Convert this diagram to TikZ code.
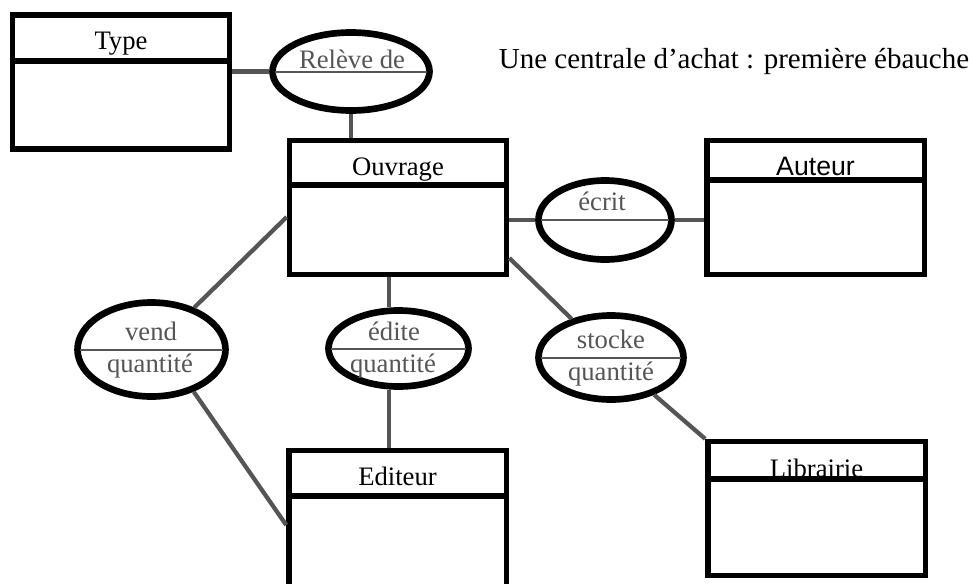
\documentclass[tikz,border=0pt]{standalone}
\usepackage{fontspec}
\setmainfont{Liberation Serif}
\newfontfamily\arial{Liberation Sans}
\usetikzlibrary{shapes.geometric}
\definecolor{gris}{RGB}{85,85,85}

\begin{document}
\begin{tikzpicture}[x=0.75pt,y=-0.75pt,
    entite/.style={draw,line width=4pt,minimum width=163pt,minimum height=100.5pt,inner sep=0pt},
    assoc/.style={ellipse,draw,line width=5pt,fill=white,inner sep=0pt},
    lien/.style={gris,line width=3.2pt},
    sep/.style={gris,line width=1.5pt,shorten <=4.5pt,shorten >=4.5pt},
    etiq/.style={anchor=base,font=\fontsize{20pt}{22pt}\selectfont},
    role/.style={etiq,text=gris}]
    \useasboundingbox (0,0) rectangle (975,583);
    \clip (0,0) rectangle (975,583);
    \node[entite] (type) at (121,82) {};
    \node[entite] (ouvrage) at (398,207.5) {};
    \node[entite] (auteur) at (815.5,207.5) {};
    \node[entite,minimum height=110pt] (editeur) at (397.5,523.8) {};
    \node[entite] (librairie) at (816.5,508.5) {};
    \draw[line width=4pt] (type.west |- 0,61) -- (type.east |- 0,61);
    \draw[line width=4pt] (ouvrage.west |- 0,185) -- (ouvrage.east |- 0,185);
    \draw[line width=4pt] (auteur.west |- 0,180) -- (auteur.east |- 0,180);
    \draw[line width=4pt] (editeur.west |- 0,496) -- (editeur.east |- 0,496);
    \draw[line width=4pt] (librairie.west |- 0,479) -- (librairie.east |- 0,479);
    \node[etiq] (type-t) at (121,49) {Type};
    \node[etiq] (ouvrage-t) at (398,175) {Ouvrage};
    \node[etiq,font=\arial\fontsize{20pt}{22pt}\selectfont] (auteur-t) at (815.5,175) {Auteur};
    \node[etiq] (editeur-t) at (397.5,485) {Editeur};
    \node[etiq] (librairie-t) at (816.5,477) {Librairie};
    \node[assoc,minimum width=117.75pt,minimum height=58.5pt] (releve) at (351,71.5) {};
    \node[assoc,minimum width=99.75pt,minimum height=59.25pt] (ecrit) at (605,220) {};
    \node[assoc,minimum width=111pt,minimum height=70.5pt] (vend) at (151.5,349.5) {};
    \node[assoc,minimum width=105pt,minimum height=57pt] (edite) at (398.5,348.5) {};
    \node[assoc,minimum width=108.75pt,minimum height=63pt] (stocke) at (611,357.5) {};
    \draw[sep] (releve.west) -- (releve.east);
    \draw[sep] (ecrit.west) -- (ecrit.east);
    \draw[sep] (vend.west) -- (vend.east);
    \draw[sep] (edite.west) -- (edite.east);
    \draw[sep] (stocke.west) -- (stocke.east);
    \node[role] (releve-t) at (352,68) {Relève de};
    \node[role] (ecrit-t) at (602,210) {écrit};
    \node[role] (vend-t) at (151,340) {vend};
    \node[role] (vend-q) at (150,372) {quantité};
    \node[role] (edite-t) at (394,340) {édite};
    \node[role] (edite-q) at (393,372) {quantité};
    \node[role] (stocke-t) at (611,348) {stocke};
    \node[role] (stocke-q) at (611,380) {quantité};
    \draw[lien] (type.east |- releve.west) -- (releve.west);
    \draw[lien] (releve.south) -- (releve.south |- ouvrage.north);
    \draw[lien] (ouvrage.east |- ecrit.west) -- (ecrit.west);
    \draw[lien] (ecrit.east) -- (ecrit.east -| auteur.west);
    \draw[lien] (vend) -- (ouvrage.west |- 0,217);
    \draw[lien] (vend.-45) -- (editeur.west |- 0,525);
    \draw[lien] (ouvrage.south -| 389,0) -- (edite.north -| 389,0);
    \draw[lien] (edite.south -| 389,0) -- (editeur.north -| 389,0);
    \draw[lien] (stocke) -- (ouvrage.east |- 0,258);
    \draw[lien] (stocke) -- (librairie.north west);
    \node[anchor=base,font=\fontsize{21.75pt}{24pt}\selectfont] (entete) at (734,68) {Une centrale d’achat : première ébauche};
\end{tikzpicture}
\end{document}
